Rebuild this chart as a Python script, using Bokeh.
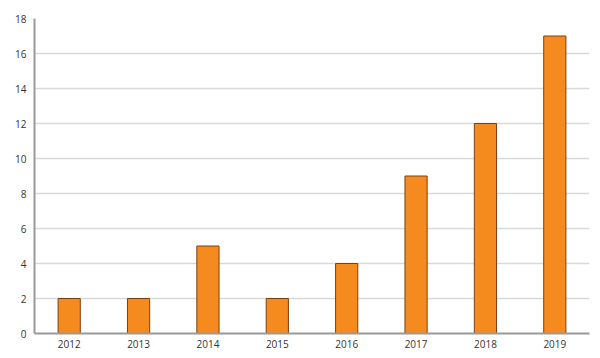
from bokeh.plotting import figure
from bokeh.models import Range1d, FixedTicker
from bokeh.embed import file_html
from bokeh.resources import INLINE

years = ["2012", "2013", "2014", "2015", "2016", "2017", "2018", "2019"]
counts = [2, 2, 5, 2, 4, 9, 12, 17]
y_ticks = [0, 2, 4, 6, 8, 10, 12, 14, 16, 18]

p = figure(x_range=years, y_range=Range1d(0, 18), output_backend="svg",
           toolbar_location=None, frame_width=555, frame_height=315,
           min_border_left=34, min_border_top=18, min_border_right=3,
           min_border_bottom=22, outline_line_color=None)

p.vbar(x=years, top=counts, width=0.32, fill_color="#F58A1F",
       line_color="#7A4010", line_width=1)

font = "Open Sans"
for ax in (p.xaxis, p.yaxis):
    ax.major_tick_line_color = None
    ax.minor_tick_line_color = None
    ax.major_tick_out = 0
    ax.major_tick_in = 0
    ax.axis_line_color = "#999999"
    ax.axis_line_width = 2
    ax.major_label_text_font = font
    ax.major_label_text_font_size = "10px"
    ax.major_label_text_color = "#333333"
p.yaxis.ticker = FixedTicker(ticks=y_ticks)
p.yaxis.major_label_standoff = 8
p.yaxis.major_label_text_align = "right"
p.xaxis.major_label_standoff = 6
p.xgrid.grid_line_color = None
p.ygrid.grid_line_color = "#D9D9D9"
p.ygrid.grid_line_width = 1.5
p.ygrid.ticker = FixedTicker(ticks=y_ticks)

open("out.html", "w").write(file_html(p, INLINE))
